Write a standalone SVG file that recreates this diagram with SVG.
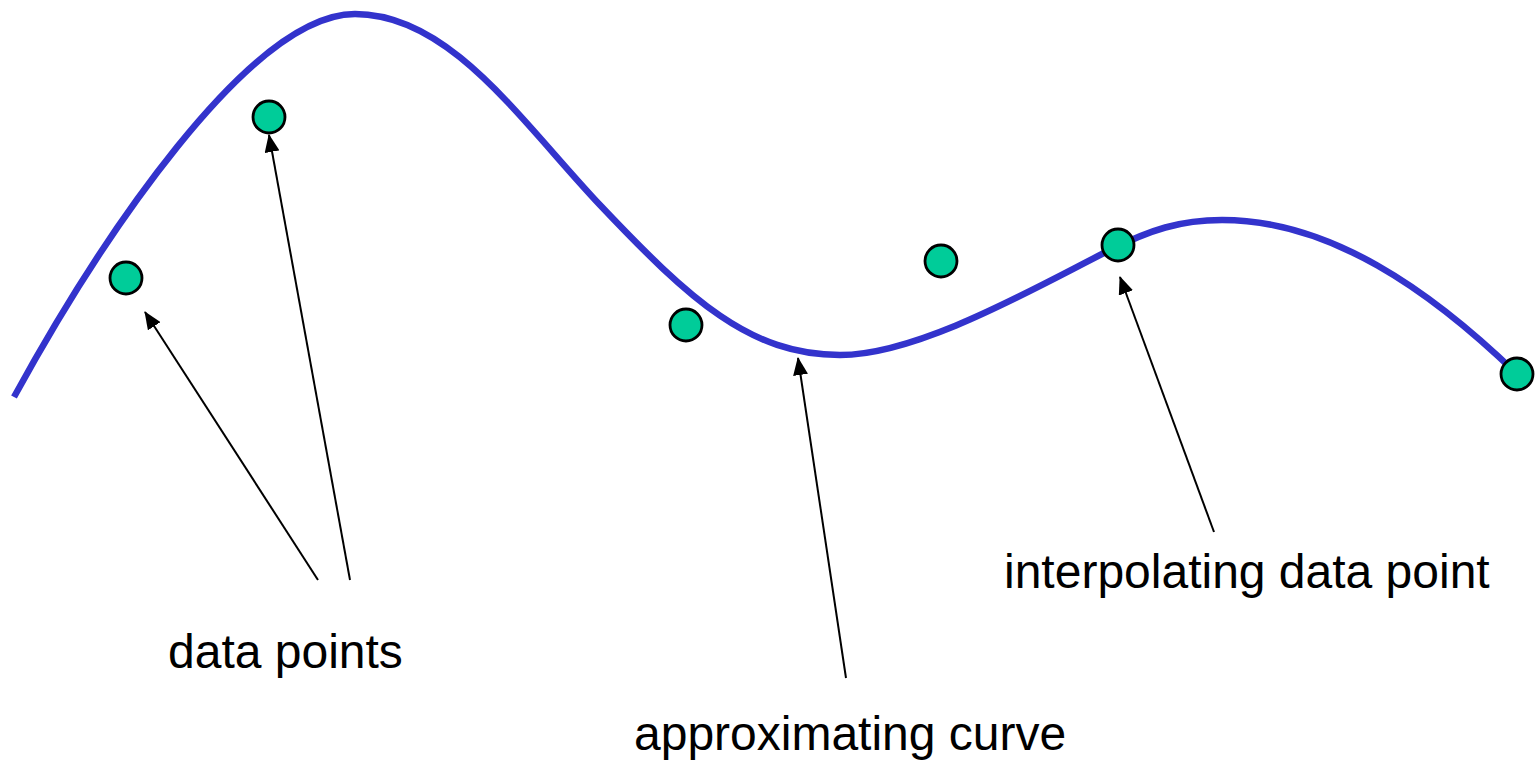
<svg xmlns="http://www.w3.org/2000/svg" width="1537" height="762" viewBox="0 0 1537 762">
<style>
.curve{fill:none;stroke:#3333CC;stroke-width:6.5}
.dot{fill:#00CC99;stroke:#000;stroke-width:2.8}
.arr{fill:none;stroke:#000;stroke-width:2;marker-end:url(#ah)}
.lbl{font-family:"Liberation Sans",Arial,sans-serif;font-size:48px;fill:#000}
</style>
<defs>
<marker id="ah" viewBox="0 0 18 15" refX="17" refY="7.5" markerWidth="18" markerHeight="15" markerUnits="userSpaceOnUse" orient="auto">
<path d="M0,0 L18,7.5 L0,15 Z" fill="#000"/>
</marker>
</defs>
<rect width="1537" height="762" fill="#fff"/>
<g id="curve">
<path class="curve" d="M14,397 C100,240 250,14 355,14 C450,14 520,120 600,205 C690,300 750,355 840,355 C920,355 1040,285 1110,250 C1150,230 1180,220 1222,220 C1330,220 1430,290 1517,374"/>
</g>
<g id="connectors">
<path class="arr" d="M318,580 L145,312"/>
<path class="arr" d="M350,580 L269,135"/>
<path class="arr" d="M846,678 L798,358"/>
<path class="arr" d="M1214,532 L1120,277"/>
</g>
<g id="points">
<circle class="dot" cx="126" cy="278" r="16"/>
<circle class="dot" cx="269" cy="117" r="16"/>
<circle class="dot" cx="686" cy="325" r="16"/>
<circle class="dot" cx="941" cy="261" r="16"/>
<circle class="dot" cx="1118" cy="245" r="16"/>
<circle class="dot" cx="1517" cy="374" r="16"/>
</g>
<g id="label-data-points"><text class="lbl" x="168" y="668">data points</text></g>
<g id="label-approx"><text class="lbl" x="634" y="750">approximating curve</text></g>
<g id="label-interp"><text class="lbl" x="1004" y="588">interpolating data point</text></g>
</svg>
